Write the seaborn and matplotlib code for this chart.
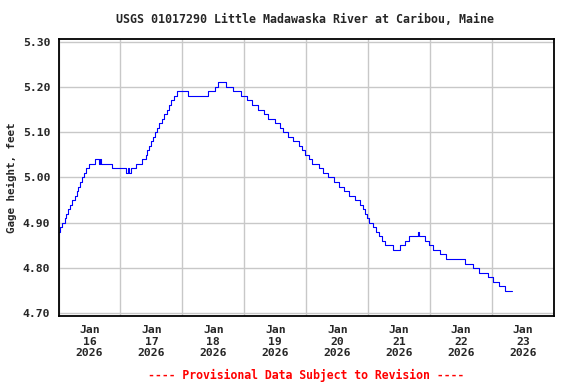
import numpy as np
import pandas as pd
import seaborn as sns
import matplotlib.pyplot as plt
import matplotlib.dates as mdates
from matplotlib.ticker import FixedLocator, FormatStrFormatter

# Gage height readings (step changes), USGS 01017290, Jan 2026
change_times = [
    "01-16 00:00", "01-16 00:30", "01-16 01:15", "01-16 02:30", "01-16 03:00",
    "01-16 03:45", "01-16 04:30", "01-16 05:15", "01-16 06:30", "01-16 07:00",
    "01-16 07:30", "01-16 08:15", "01-16 09:15", "01-16 10:00", "01-16 10:45",
    "01-16 12:00", "01-16 14:00", "01-16 15:45", "01-16 16:15", "01-16 16:30",
    "01-16 20:45", "01-17 02:00", "01-17 02:45", "01-17 03:15", "01-17 04:00",
    "01-17 06:00", "01-17 08:15", "01-17 09:45", "01-17 10:15", "01-17 11:00",
    "01-17 12:00", "01-17 12:45", "01-17 13:30", "01-17 14:00", "01-17 15:00",
    "01-17 16:15", "01-17 17:00", "01-17 18:00", "01-17 18:45", "01-17 19:30",
    "01-17 20:45", "01-17 21:45", "01-18 02:15", "01-18 09:45", "01-18 12:30",
    "01-18 13:45", "01-18 16:45", "01-18 19:30", "01-18 22:45", "01-19 01:00",
    "01-19 03:00", "01-19 05:15", "01-19 07:45", "01-19 09:00", "01-19 12:00",
    "01-19 14:00", "01-19 15:00", "01-19 16:45", "01-19 18:45", "01-19 21:00",
    "01-19 22:15", "01-19 23:30", "01-20 01:15", "01-20 02:15", "01-20 04:45",
    "01-20 06:30", "01-20 08:30", "01-20 10:45", "01-20 12:45", "01-20 14:45",
    "01-20 16:30", "01-20 18:45", "01-20 21:00", "01-20 22:00", "01-20 22:45",
    "01-20 23:30", "01-21 00:15", "01-21 02:00", "01-21 03:00", "01-21 04:15",
    "01-21 05:30", "01-21 06:30", "01-21 09:30", "01-21 12:30", "01-21 14:15",
    "01-21 16:00", "01-21 19:15", "01-21 19:30", "01-21 22:00", "01-21 23:45",
    "01-22 01:15", "01-22 04:00", "01-22 06:15", "01-22 13:30", "01-22 16:45",
    "01-22 18:45", "01-22 22:15", "01-23 00:30", "01-23 02:45", "01-23 05:00",
    "01-23 07:45",
]
gage_ft = [
    4.88, 4.89, 4.90, 4.91, 4.92,
    4.93, 4.94, 4.95, 4.96, 4.97,
    4.98, 4.99, 5.00, 5.01, 5.02,
    5.03, 5.04, 5.03, 5.04, 5.03,
    5.02, 5.01, 5.02, 5.01, 5.02,
    5.03, 5.04, 5.05, 5.06, 5.07,
    5.08, 5.09, 5.10, 5.11, 5.12,
    5.13, 5.14, 5.15, 5.16, 5.17,
    5.18, 5.19, 5.18, 5.19, 5.20,
    5.21, 5.20, 5.19, 5.18, 5.17,
    5.16, 5.15, 5.14, 5.13, 5.12,
    5.11, 5.10, 5.09, 5.08, 5.07,
    5.06, 5.05, 5.04, 5.03, 5.02,
    5.01, 5.00, 4.99, 4.98, 4.97,
    4.96, 4.95, 4.94, 4.93, 4.92,
    4.91, 4.90, 4.89, 4.88, 4.87,
    4.86, 4.85, 4.84, 4.85, 4.86,
    4.87, 4.88, 4.87, 4.86, 4.85,
    4.84, 4.83, 4.82, 4.81, 4.80,
    4.79, 4.78, 4.77, 4.76, 4.75,
    4.75,
]
y_ticks = [4.70, 4.80, 4.90, 5.00, 5.10, 5.20, 5.30]

df = pd.DataFrame({
    "time": pd.to_datetime(["2026-" + t for t in change_times]),
    "gage": gage_ft,
})

sns.set_style("white")
plt.rcParams["font.family"] = ["DejaVu Sans Mono"]
plt.rcParams["font.weight"] = "bold"

fig = plt.figure(figsize=(5.76, 3.84), dpi=100)
ax = fig.add_axes([0.1016, 0.178, 0.8602, 0.7197])

sns.lineplot(data=df, x="time", y="gage", ax=ax, color="#0000ff", linewidth=0.8,
             drawstyle="steps-post", estimator=None)

ax.set_xlim(pd.Timestamp("2026-01-16"), pd.Timestamp("2026-01-24"))
ax.set_ylim(4.695, 5.305)

# midnight gridlines, labels centered at noon
ax.xaxis.set_major_locator(mdates.DayLocator())
ax.xaxis.set_major_formatter(plt.NullFormatter())
ax.xaxis.set_minor_locator(mdates.HourLocator(byhour=12))
ax.xaxis.set_minor_formatter(mdates.DateFormatter("%b\n%d\n%Y"))
ax.yaxis.set_major_locator(FixedLocator(y_ticks))
ax.yaxis.set_major_formatter(FormatStrFormatter("%.2f"))

ax.grid(True, which="major", color="#c8c8c8", linewidth=1.0)
ax.tick_params(axis="both", which="both", length=0)
ax.tick_params(axis="y", labelsize=8.2, pad=6)
ax.tick_params(axis="x", which="minor", labelsize=8.2, pad=7)
for lbl in ax.xaxis.get_minorticklabels():
    lbl.set_fontweight("bold")
    lbl.set_linespacing(1.15)
for lbl in ax.get_yticklabels():
    lbl.set_fontweight("bold")

for sp in ax.spines.values():
    sp.set_color("black")
    sp.set_linewidth(1.3)

ax.set_xlabel("")
ax.set_ylabel("Gage height, feet", fontsize=7.8, fontweight="bold", labelpad=4)
fig.text(0.530, 0.948, "USGS 01017290 Little Madawaska River at Caribou, Maine",
         ha="center", va="center", fontsize=8.4, fontweight="bold")
fig.text(0.532, 0.023, "---- Provisional Data Subject to Revision ----",
         ha="center", va="center", fontsize=8.3, fontweight="bold", color="red")

fig.savefig("out.png", dpi=100)
